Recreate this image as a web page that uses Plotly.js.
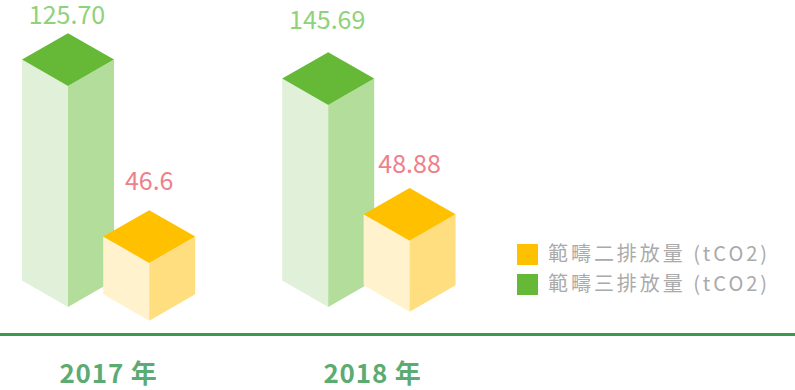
<!DOCTYPE html>
<html><head><meta charset="utf-8">
<script src="https://cdn.plot.ly/plotly-3.0.1.min.js"></script>
<style>html,body{margin:0;padding:0;background:#fff}#c{width:795px;height:390px}</style>
</head><body><div id="c"></div>
<script>
// Data
const categories = ['2017 年', '2018 年'];
const seriesNames = ['範疇二排放量 (tCO2)', '範疇三排放量 (tCO2)'];
const scope2Labels = ['46.6', '48.88'];
const scope3Labels = ['125.70', '145.69'];
// The reference's column heights are not proportional to its labels, so the drawn extents are read separately
const scope2Top = [70, 92.3];
const scope2Base = [12.3, 21.3];
const scope3Top = [247, 228];
const scope3Base = [26, 26];

// Geometry of the isometric boxes
const W = 795, H = 390, AXIS_PX = 333;
const HALF_W = 46, HALF_D = 26.4;
const scope2X = [149.2, 409.6], scope3X = [68, 328.2];
const tickX = [108.5, 372.5];
const scope2Colors = {top:'#ffc000', left:'#fff2cc', right:'#ffde80'};
const scope3Colors = {top:'#66b936', left:'#e1f1d9', right:'#b3dd9b'};
const face = (xs, ys, color) => ({type:'scatter', mode:'lines', x:xs, y:ys, fill:'toself',
  fillcolor:color, line:{width:0, color:color}, hoverinfo:'skip', showlegend:false, cliponaxis:false});
function box(cx, top, base, c) {
  return [
    face([cx-HALF_W, cx, cx, cx-HALF_W, cx-HALF_W], [top+HALF_D, top, base, base+HALF_D, top+HALF_D], c.left),
    face([cx, cx+HALF_W, cx+HALF_W, cx, cx], [top, top+HALF_D, base+HALF_D, base, top], c.right),
    face([cx, cx-HALF_W, cx, cx+HALF_W, cx], [top, top+HALF_D, top+2*HALF_D, top+HALF_D, top], c.top)
  ];
}
const textFont = (size, color) => ({family:'"Noto Sans CJK TC","Noto Sans",sans-serif', size, color, weight:400});
const labelTrace = (xs, ys, texts, color) => ({type:'scatter', mode:'text', x:xs, y:ys, text:texts,
  textposition:'middle center', textfont:textFont(25, color), hoverinfo:'skip', showlegend:false, cliponaxis:false});

const traces = [];
categories.forEach((_, i) => traces.push(...box(scope3X[i], scope3Top[i], scope3Base[i], scope3Colors)));
categories.forEach((_, i) => traces.push(...box(scope2X[i], scope2Top[i], scope2Base[i], scope2Colors)));
traces.push(labelTrace(scope3X.map(x=>x-1), [AXIS_PX-18, AXIS_PX-23], scope3Labels, '#8fd27a'));
traces.push(labelTrace(scope2X, [AXIS_PX-184, AXIS_PX-167], scope2Labels, '#ef7f8b'));
// Legend swatches and entries
const legendY = [AXIS_PX-254.5, AXIS_PX-284.5];
const legendTextY = [AXIS_PX-256, AXIS_PX-286];
const legendColors = [scope2Colors.top, scope3Colors.top];
traces.push({type:'scatter', mode:'markers', x:[527.5,527.5], y:legendY,
  marker:{symbol:'square', size:21, color:legendColors, line:{width:0}}, hoverinfo:'skip', showlegend:false, cliponaxis:false});
traces.push({type:'scatter', mode:'text', x:[548,548], y:legendTextY, text:seriesNames,
  textposition:'middle right', textfont:textFont(20, '#aaaaaa'), hoverinfo:'skip', showlegend:false, cliponaxis:false});

const layout = {
  width:W, height:H, margin:{l:0, r:0, t:0, b:H-AXIS_PX, pad:0},
  paper_bgcolor:'#fff', plot_bgcolor:'#fff', showlegend:false,
  xaxis:{range:[0,W], showgrid:false, zeroline:false, showline:true, linecolor:'#389b50', linewidth:3,
    tickmode:'array', tickvals:tickX, ticktext:categories, ticks:'', ticklabelstandoff:16, fixedrange:true,
    tickfont:{family:'"Noto Sans CJK TC","Noto Sans",sans-serif', size:26, color:'#5cab73', weight:700}},
  yaxis:{range:[0,AXIS_PX], showgrid:false, zeroline:false, showline:false, showticklabels:false, ticks:'', fixedrange:true}
};
Plotly.newPlot('c', traces, layout, {displayModeBar:false, staticPlot:true}).then(() => {
  document.querySelectorAll('.textpoint text').forEach(t => {
    if (t.textContent.includes('tCO2')) t.style.letterSpacing = '2.95px';
  });
  document.querySelectorAll('.xtick text').forEach(t => { t.style.letterSpacing = '0.8px'; });
});
</script></body></html>
